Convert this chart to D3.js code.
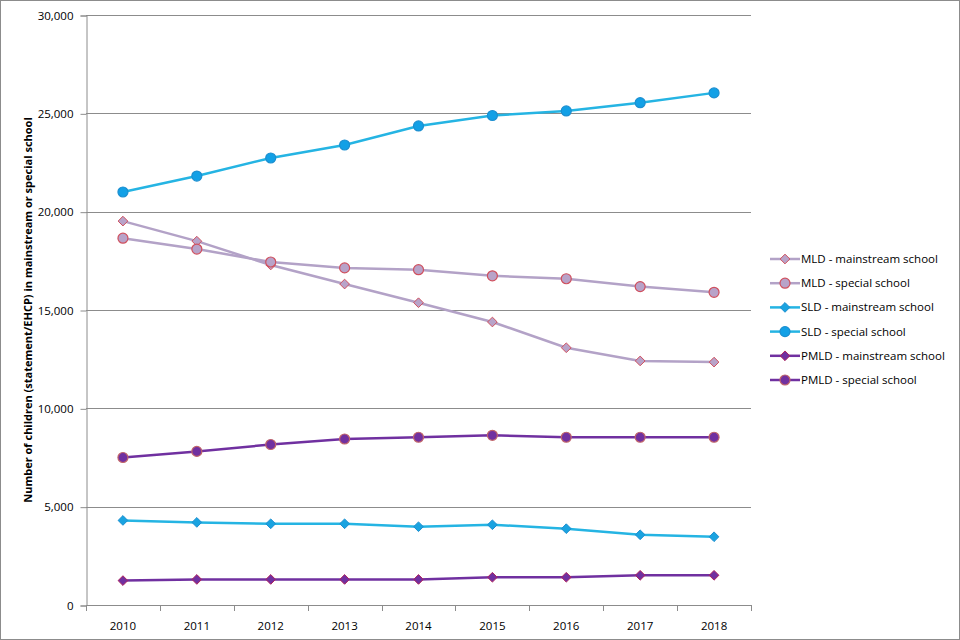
<!DOCTYPE html>
<html lang="en">

<head>
    <meta charset="utf-8">
    <title>SEN statements by type of need and school</title>
    <script src="https://d3js.org/d3.v7.min.js"></script>
    <style type="text/css">
        body { margin: 0; background: #fff; }
        text { font-family: "Open Sans", "Noto Sans", sans-serif; fill: #000; }
    </style>
</head>

<body>
    <script type="text/javascript">

        // Data
        var years = ["2010", "2011", "2012", "2013", "2014", "2015", "2016", "2017", "2018"];
        var mldMainstream = [19520, 18500, 17290, 16320, 15370, 14390, 13080, 12410, 12350];
        var mldSpecial = [18650, 18100, 17440, 17140, 17050, 16740, 16590, 16190, 15900];
        var sldMainstream = [4300, 4200, 4130, 4130, 3980, 4080, 3880, 3570, 3470];
        var sldSpecial = [21000, 21810, 22730, 23390, 24360, 24890, 25120, 25540, 26040];
        var pmldMainstream = [1240, 1300, 1300, 1300, 1300, 1410, 1410, 1510, 1510];
        var pmldSpecial = [7500, 7810, 8160, 8440, 8530, 8630, 8530, 8530, 8530];
        var yTicks = [0, 5000, 10000, 15000, 20000, 25000, 30000];
        var seriesNames = ["MLD - mainstream school", "MLD - special school",
            "SLD - mainstream school", "SLD - special school",
            "PMLD - mainstream school", "PMLD - special school"];

        var w = 960, h = 640;
        var plotLeft = 86, plotRight = 751, plotTop = 15, plotBottom = 605;

        var series = [
            { name: seriesNames[0], values: mldMainstream, line: "#b3a2c7", fill: "#b8a3c9", stroke: "#d0505e", shape: "diamond" },
            { name: seriesNames[1], values: mldSpecial, line: "#b3a2c7", fill: "#b8a3c9", stroke: "#d0505e", shape: "circle" },
            { name: seriesNames[2], values: sldMainstream, line: "#25b4e3", fill: "#1aa3e0", stroke: "#1c8fd0", shape: "diamond" },
            { name: seriesNames[3], values: sldSpecial, line: "#25b4e3", fill: "#12a0e6", stroke: "#1c8fd0", shape: "circle" },
            { name: seriesNames[4], values: pmldMainstream, line: "#7030a0", fill: "#7030a0", stroke: "#b0245e", shape: "diamond" },
            { name: seriesNames[5], values: pmldSpecial, line: "#7030a0", fill: "#7030a0", stroke: "#c0646a", shape: "circle" }
        ];

        var svg = d3.select("body")
            .append("svg")
            .attr("width", w)
            .attr("height", h);

        // outer frame
        svg.append("rect")
            .attr("x", 0.5).attr("y", 0.5)
            .attr("width", w - 1).attr("height", h - 1)
            .attr("fill", "#fff")
            .attr("stroke", "#8c8c8c");

        var x = d3.scaleBand()
            .domain(years)
            .range([plotLeft, plotRight]);

        var y = d3.scaleLinear()
            .domain([0, 30000])
            .range([plotBottom, plotTop]);

        // gridlines
        svg.append("g")
            .selectAll("line")
            .data(yTicks.slice(1))
            .enter()
            .append("line")
            .attr("x1", plotLeft).attr("x2", plotRight)
            .attr("y1", function (d) { return Math.round(y(d)) + 0.5; })
            .attr("y2", function (d) { return Math.round(y(d)) + 0.5; })
            .attr("stroke", "#8c8c8c");

        // y axis
        var yAxis = svg.append("g")
            .attr("transform", "translate(" + (plotLeft + 0.5) + ",0.5)")
            .call(d3.axisLeft(y).tickValues(yTicks).tickSize(6).tickPadding(7)
                .tickFormat(d3.format(",")));
        yAxis.selectAll("path, line").attr("stroke", "#8c8c8c");
        yAxis.selectAll("text").attr("font-size", "11.5px").attr("font-family", "'Open Sans', sans-serif");

        // x axis
        var xAxis = svg.append("g")
            .attr("transform", "translate(0," + (plotBottom + 0.5) + ")")
            .call(d3.axisBottom(x).tickSize(0).tickPadding(16));
        xAxis.select(".domain").attr("stroke", "#8c8c8c").attr("d", "M" + plotLeft + ",0H" + plotRight);
        xAxis.selectAll("text").attr("font-size", "11.5px").attr("font-family", "'Open Sans', sans-serif");

        // x tick marks at category boundaries
        svg.append("g")
            .selectAll("line")
            .data(years.concat(["end"]))
            .enter()
            .append("line")
            .attr("x1", function (d, i) { return Math.round(plotLeft + i * x.bandwidth()) + 0.5; })
            .attr("x2", function (d, i) { return Math.round(plotLeft + i * x.bandwidth()) + 0.5; })
            .attr("y1", plotBottom).attr("y2", plotBottom + 6)
            .attr("stroke", "#8c8c8c");

        // y axis title
        svg.append("text")
            .attr("transform", "translate(32," + ((plotTop + plotBottom) / 2) + ") rotate(-90)")
            .attr("text-anchor", "middle")
            .attr("font-size", "11px")
            .attr("font-weight", "bold")
            .text("Number of children (statement/EHCP) in  mainstream or special school");

        var cx = function (i) { return x(years[i]) + x.bandwidth() / 2; };

        var line = d3.line()
            .x(function (d, i) { return cx(i); })
            .y(function (d) { return y(d); });

        function drawMarker(g, shape, px, py, s) {
            if (shape === "circle") {
                g.append("circle")
                    .attr("cx", px).attr("cy", py).attr("r", 5)
                    .attr("fill", s.fill).attr("stroke", s.stroke).attr("stroke-width", 1.2);
            } else {
                g.append("path")
                    .attr("d", d3.symbol().type(d3.symbolDiamond2).size(60)())
                    .attr("transform", "translate(" + px + "," + py + ")")
                    .attr("fill", s.fill).attr("stroke", s.stroke).attr("stroke-width", 1);
            }
        }

        series.forEach(function (s) {
            var g = svg.append("g");
            g.append("path")
                .datum(s.values)
                .attr("d", line)
                .attr("fill", "none")
                .attr("stroke", s.line)
                .attr("stroke-width", 2.5);
            s.values.forEach(function (v, i) {
                drawMarker(g, s.shape, cx(i), y(v), s);
            });
        });

        // legend
        var legend = svg.append("g").attr("transform", "translate(770,259)");
        series.forEach(function (s, i) {
            var row = legend.append("g").attr("transform", "translate(0," + (i * 24.2) + ")");
            row.append("line")
                .attr("x1", 0).attr("x2", 30)
                .attr("stroke", s.line).attr("stroke-width", 2.5);
            drawMarker(row, s.shape, 15, 0, s);
            row.append("text")
                .attr("x", 31).attr("y", 4)
                .attr("font-size", "11.5px")
                .text(s.name);
        });

    </script>
</body>

</html>
